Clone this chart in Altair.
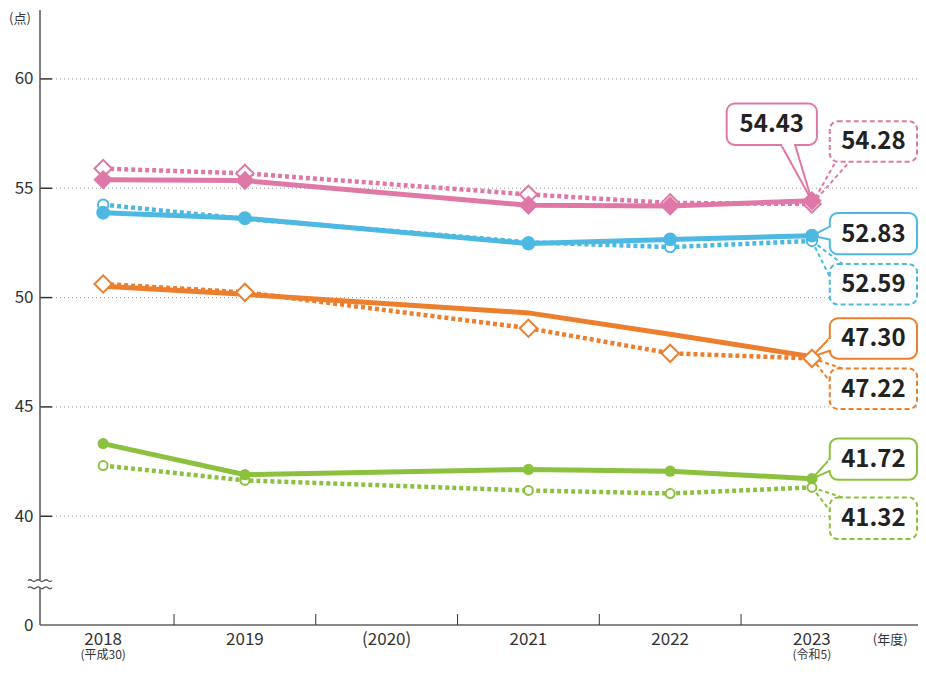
import altair as alt
import pandas as pd

# ---------------- data ----------------
years = [2018, 2019, 2021, 2022, 2023]
pink_solid = [55.39, 55.35, 54.22, 54.19, 54.43]
pink_dotted = [55.90, 55.68, 54.72, 54.33, 54.28]
blue_solid = [53.88, 53.63, 52.47, 52.66, 52.83]
blue_dotted = [54.25, 53.60, 52.53, 52.31, 52.59]
orange_solid = [50.52, 50.15, 49.30, 48.32, 47.30]
orange_dotted = [50.62, 50.24, 48.60, 47.45, 47.22]
green_solid = [43.32, 41.90, 42.14, 42.06, 41.72]
green_dotted = [42.32, 41.64, 41.18, 41.04, 41.32]

x_label_years = [2018, 2019, 2020, 2021, 2022, 2023]
x_labels = ["2018", "2019", "(2020)", "2021", "2022", "2023"]
x_sub_labels = ["(平成30)", "", "", "", "", "(令和5)"]
y_tick_values = [40, 45, 50, 55, 60]

# ---------------- styles / layout ----------------
FONT = "Noto Sans CJK JP"
PINK = "#E078A7"
BLUE = "#4DB9E2"
ORANGE = "#EC7F2D"
GREEN = "#8CC13F"

# the page must stay inside 926x675 with 8px margins -> svg 910 x 656
SX = 910 / 918
SY = 0.985


def mx(rx):
    return 8 + (rx - 8) * SX


def my(ry):
    return 8 + (ry - 8) * SY


PAD_L, PAD_T = 32, 2
OX, OY = 8 + PAD_L, 8 + PAD_T
W = round(mx(926) - OX)
H = round(my(634) - OY)
PAD_B = 656 - PAD_T - H
PAD_R = 910 - PAD_L - W


def px(x):
    return mx(x) - OX


def py(y):
    return my(y) - OY


STEP = 143 * SX
X0 = 2018 - px(104) / STEP
X_DOMAIN = [X0, X0 + W / STEP]
U = (my(524) - my(80)) / 20
Y1 = 60 + py(80) / U
ZERO_POS = Y1 - H / U
Y_DOMAIN = [ZERO_POS, Y1]

rows = []
for name, style, vals in [
    ("pink", "solid", pink_solid), ("pink", "dotted", pink_dotted),
    ("blue", "solid", blue_solid), ("blue", "dotted", blue_dotted),
    ("orange", "solid", orange_solid), ("orange", "dotted", orange_dotted),
    ("green", "solid", green_solid), ("green", "dotted", green_dotted),
]:
    for yr, v in zip(years, vals):
        rows.append({"year": yr, "value": v, "series": name, "style": style, "key": name + "_" + style})
df = pd.DataFrame(rows)

xs = alt.X("year:Q", scale=alt.Scale(domain=X_DOMAIN, nice=False, zero=False), axis=None)
y_axis = alt.Axis(values=[ZERO_POS] + y_tick_values,
                  labelExpr="datum.value < 39 ? '0' : datum.label",
                  domain=False, ticks=False, grid=False, title=None,
                  labelFontSize=17, labelColor="#333", labelFont=FONT, labelPadding=7)
ys = alt.Y("value:Q", scale=alt.Scale(domain=Y_DOMAIN, nice=False, zero=False), axis=y_axis)
color_enc = alt.Color("series:N",
                      scale=alt.Scale(domain=["pink", "blue", "orange", "green"],
                                      range=[PINK, BLUE, ORANGE, GREEN]),
                      legend=None)

one = pd.DataFrame({"a": [0]})
layers = []

# grid lines
df_grid = pd.DataFrame({"value": y_tick_values})
layers.append(alt.Chart(df_grid).mark_rule(color="#9a9a9a", strokeWidth=1, strokeDash=[1, 3]).encode(
    y=ys, x=alt.value(12), x2=alt.value(W)))

# y axis ticks (inward)
df_ticks = pd.DataFrame({"value": [ZERO_POS] + y_tick_values})
layers.append(alt.Chart(df_ticks).mark_rule(color="#333", strokeWidth=1.5).encode(
    y=ys, x=alt.value(0), x2=alt.value(12)))

# x axis line
layers.append(alt.Chart(one).mark_rule(color="#888", strokeWidth=2).encode(
    x=alt.value(0), x2=alt.value(W), y=alt.value(H)))

# y axis line with break
layers.append(alt.Chart(one).mark_rule(color="#555", strokeWidth=1.5).encode(
    x=alt.value(0), y=alt.value(0), y2=alt.value(py(589))))
layers.append(alt.Chart(one).mark_rule(color="#555", strokeWidth=1.5).encode(
    x=alt.value(0), y=alt.value(py(597)), y2=alt.value(H)))
WAVE = ("M-1,-0.3 Q-0.833,-0.45 -0.667,-0.3 T-0.333,-0.3 T0,-0.3 T0.333,-0.3 T0.667,-0.3 T1,-0.3 "
        "M-1,0.3 Q-0.833,0.15 -0.667,0.3 T-0.333,0.3 T0,0.3 T0.333,0.3 T0.667,0.3 T1,0.3")
layers.append(alt.Chart(one).mark_point(shape=WAVE, filled=False, stroke="#555", strokeWidth=1.3,
                                        size=576, opacity=1).encode(
    x=alt.value(0), y=alt.value(py(593))))

# x ticks at category boundaries
df_bound = pd.DataFrame({"year": [y + 0.5 for y in x_label_years[:-1]]})
layers.append(alt.Chart(df_bound).mark_rule(color="#333", strokeWidth=1).encode(
    x=xs, y=alt.value(H - 11), y2=alt.value(H)))

# x labels (page positions)
MAIN_Y = 640 - OY
SUB_Y = 655 - OY
df_xl = pd.DataFrame({"year": x_label_years, "label": x_labels, "sub": x_sub_labels})
layers.append(alt.Chart(df_xl).mark_text(font=FONT, fontSize=17, color="#333", baseline="middle").encode(
    x=xs, y=alt.value(MAIN_Y), text="label:N"))
layers.append(alt.Chart(df_xl).mark_text(font=FONT, fontSize=12, color="#333", baseline="middle").encode(
    x=xs, y=alt.value(SUB_Y), text="sub:N"))
layers.append(alt.Chart(one).mark_text(text="(年度)", font=FONT, fontSize=13, color="#333",
                                       baseline="middle").encode(x=alt.value(px(898)), y=alt.value(MAIN_Y)))
layers.append(alt.Chart(one).mark_text(text="(点)", font=FONT, fontSize=13, color="#333",
                                       baseline="middle").encode(x=alt.value(px(20)), y=alt.value(py(19))))

# lines
layers.append(alt.Chart(df).transform_filter(alt.datum.style == "dotted").mark_line(
    strokeWidth=4.5, strokeDash=[4, 3]).encode(x=xs, y=ys, color=color_enc, detail="key:N"))
layers.append(alt.Chart(df).transform_filter(alt.datum.style == "solid").mark_line(
    strokeWidth=5).encode(x=xs, y=ys, color=color_enc, detail="key:N"))

# callouts (box corners and pointer bases in reference-page coordinates)
callouts = [
    (pink_solid, PINK, False, (733, 105, 824, 147), [(788, 147), (802, 147)]),
    (pink_dotted, PINK, True, (837, 123, 925, 164), [(843, 164), (857, 164)]),
    (blue_solid, BLUE, False, (837, 216, 925, 258), [(837, 230), (837, 243)]),
    (blue_dotted, BLUE, True, (837, 268, 925, 309), [(850, 268), (837, 281)]),
    (orange_solid, ORANGE, False, (837, 323, 925, 364), [(837, 343), (837, 356)]),
    (orange_dotted, ORANGE, True, (837, 374, 925, 415), [(850, 374), (837, 387)]),
    (green_solid, GREEN, False, (837, 445, 925, 487), [(837, 466), (837, 478)]),
    (green_dotted, GREEN, True, (837, 505, 925, 547), [(850, 505), (837, 518)]),
]
for vals, col, dashed, (x1, y1, x2, y2), bases in callouts:
    last = pd.DataFrame({"year": [years[-1]], "value": [vals[-1]]})
    dash_kw = {"strokeDash": [4, 3]} if dashed else {}
    for bx, by in bases:
        layers.append(alt.Chart(last).mark_rule(color=col, strokeWidth=2, **dash_kw).encode(
            x=xs, y=ys, x2=alt.value(px(bx)), y2=alt.value(py(by))))
    box_dash = {"strokeDash": [5, 3]} if dashed else {}
    layers.append(alt.Chart(one).mark_rect(fill="white", stroke=col, strokeWidth=2,
                                           cornerRadius=8, **box_dash).encode(
        x=alt.value(px(x1)), x2=alt.value(px(x2)), y=alt.value(py(y1)), y2=alt.value(py(y2))))
    if not dashed:
        (ax, ay), (bx2, by2) = bases
        if ay == by2:
            mx1, mx2, my1, my2 = ax + 1, bx2 - 1, ay, by2
        else:
            mx1, mx2, my1, my2 = ax, bx2, ay + 1, by2 - 1
        layers.append(alt.Chart(one).mark_rule(color="white", strokeWidth=3).encode(
            x=alt.value(px(mx1)), x2=alt.value(px(mx2)), y=alt.value(py(my1)), y2=alt.value(py(my2))))
    layers.append(alt.Chart(one).mark_text(font=FONT, fontSize=24, fontWeight="bold", color="#222",
                                           align="center", baseline="middle").encode(
        x=alt.value(px((x1 + x2) / 2)), y=alt.value(py((y1 + y2) / 2 + 1)),
        text=alt.value(f"{vals[-1]:.2f}")))


# markers: open first, filled on top
def sub(name, style):
    return alt.Chart(df).transform_filter(
        (alt.datum.series == name) & (alt.datum.style == style))


open_specs = [("pink", PINK, "diamond", 300), ("blue", BLUE, "circle", 110),
              ("orange", ORANGE, "diamond", 300), ("green", GREEN, "circle", 80)]
for name, col, shape, size in open_specs:
    layers.append(sub(name, "dotted").mark_point(shape=shape, filled=True, fill="white", stroke=col,
                                                 strokeWidth=2, size=size, opacity=1).encode(x=xs, y=ys))
filled_specs = [("pink", PINK, "diamond", 380), ("blue", BLUE, "circle", 190),
                ("green", GREEN, "circle", 125)]
for name, col, shape, size in filled_specs:
    layers.append(sub(name, "solid").mark_point(shape=shape, filled=True, color=col,
                                                size=size, opacity=1).encode(x=xs, y=ys))

chart = alt.layer(*layers).properties(
    width=W, height=H,
    padding={"left": PAD_L, "top": PAD_T, "right": PAD_R, "bottom": PAD_B},
    autosize=alt.AutoSizeParams(type="none"),
).configure_view(stroke=None)

chart.save("out.html", embed_options={"renderer": "svg", "actions": False})
